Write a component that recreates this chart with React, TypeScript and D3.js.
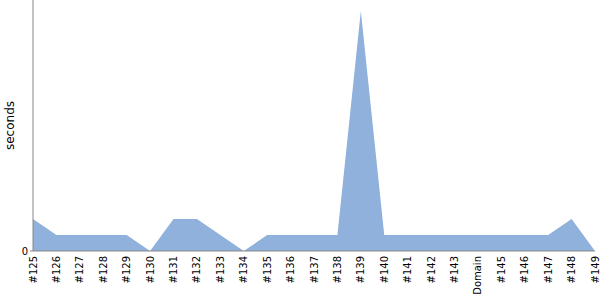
import React from "react";
import * as d3 from "d3";

const labels = ["#125","#126","#127","#128","#129","#130","#131","#132","#133","#134","#135","#136","#137","#138","#139","#140","#141","#142","#143","Domain","#145","#146","#147","#148","#149"];
const values = [2,1,1,1,1,0,2,2,1,0,1,1,1,1,15,1,1,1,1,1,1,1,1,2,0];

export default function App() {
  const W = 600, H = 300;
  const left = 33, right = 595, top = 0, bottom = 251;
  const x = d3.scalePoint<string>().domain(labels).range([left, right]);
  const y = d3.scaleLinear().domain([0, 15 * 251 / 240]).range([bottom, top]);
  const area = d3.area<number>()
    .x((_, i) => x(labels[i]) as number)
    .y0(y(0))
    .y1((d) => y(d));
  const font = "DejaVu Sans";
  return (
    <svg width={W} height={H} style={{ position: "absolute", left: 0, top: 0 }}>
      <path d={area(values) || ""} fill="#8fb1dc" />
      <line x1={left} x2={left} y1={0} y2={bottom} stroke="#888" strokeWidth={1} />
      <line x1={left} x2={right} y1={bottom} y2={bottom} stroke="#888" strokeWidth={1} />
      <line x1={left - 3} x2={left} y1={bottom} y2={bottom} stroke="#888" />
      <text x={left - 5} y={bottom} dy="0.35em" textAnchor="end" fontFamily={font} fontSize={10} fill="#000">0</text>
      {labels.map((l) => (
        <text key={l} transform={`translate(${x(l)},${bottom + 5}) rotate(-90)`} dy="0.35em" textAnchor="end" fontFamily={font} fontSize={10} fill="#000">{l}</text>
      ))}
      <text transform={`translate(10,${(top + bottom) / 2}) rotate(-90)`} dy="0.35em" textAnchor="middle" fontFamily={font} fontSize={12} fill="#000">seconds</text>
    </svg>
  );
}
